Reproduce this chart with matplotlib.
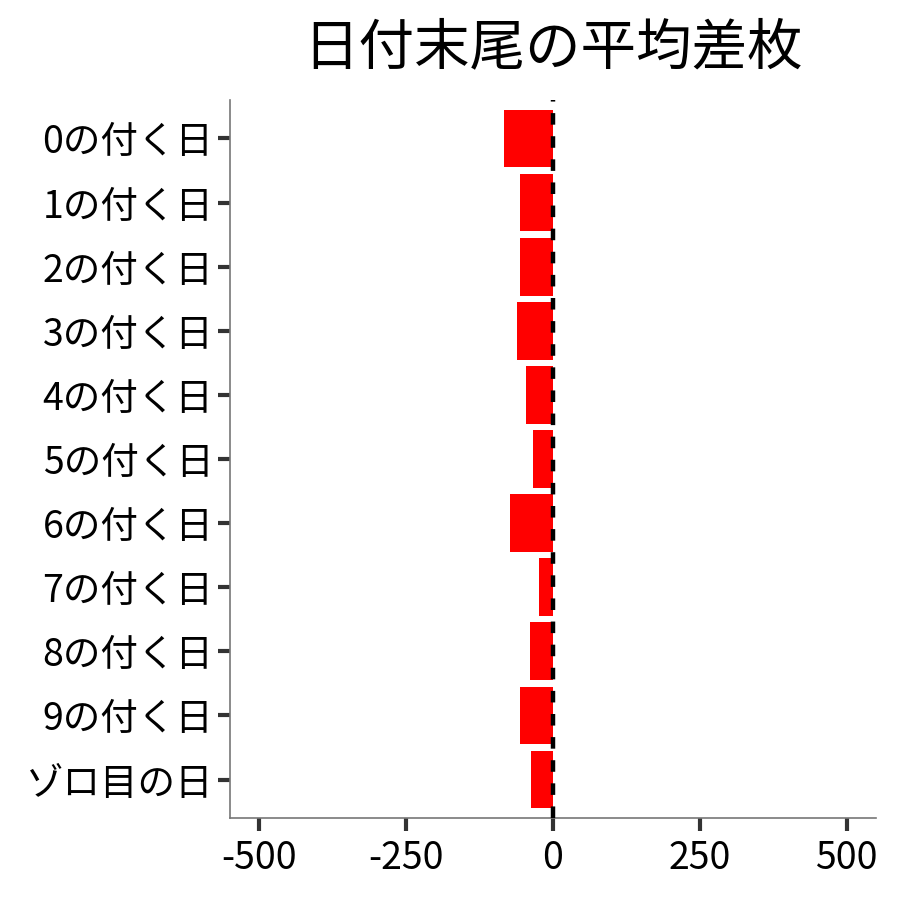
import matplotlib
matplotlib.use("Agg")
import matplotlib.pyplot as plt
import numpy as np

plt.rcParams["font.family"] = ["Noto Sans CJK JP", "DejaVu Sans"]

# categories from top to bottom
CATEGORIES = ["0の付く日", "1の付く日", "2の付く日", "3の付く日", "4の付く日",
              "5の付く日", "6の付く日", "7の付く日", "8の付く日", "9の付く日", "ゾロ目の日"]
AVG_DIFF = [-83, -57, -57, -61, -46, -34, -74, -24, -39, -57, -37]
X_TICKS = [-500, -250, 0, 250, 500]
TITLE = "日付末尾の平均差枚"

fig = plt.figure(figsize=(9, 9), dpi=100)
ax = fig.add_axes([0.2556, 0.0911, 0.7177, 0.7978])

n = len(CATEGORIES)
ypos = np.arange(n)[::-1] + 1
ax.barh(ypos, AVG_DIFF, height=0.9, color="#ff0000", zorder=2)
ax.axvline(0, color="black", linewidth=3.2, dashes=(2.6, 2.6), zorder=3)

ax.set_xlim(-550, 550)
ax.set_ylim(0.4, n + 0.6)
ax.set_xticks(X_TICKS)
ax.set_xticklabels([str(v) for v in X_TICKS])
ax.set_yticks(ypos)
ax.set_yticklabels(CATEGORIES)

for side in ["top", "right"]:
    ax.spines[side].set_visible(False)
for side in ["left", "bottom"]:
    ax.spines[side].set_color("#777777")
    ax.spines[side].set_linewidth(1.2)

ax.tick_params(axis="both", colors="#333333", labelcolor="black",
               labelsize=27, length=9, width=3)
ax.tick_params(axis="x", pad=6)
ax.tick_params(axis="y", pad=3)

fig.suptitle(TITLE, fontsize=40, x=0.6144, y=0.946, va="center")

fig.savefig("out.png", dpi=100)
